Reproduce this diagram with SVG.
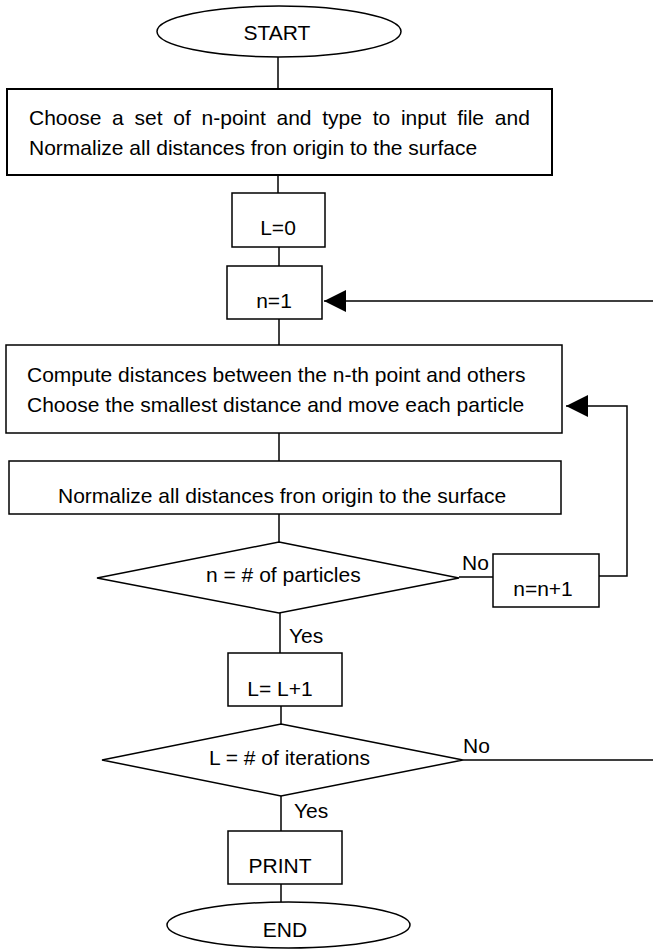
<svg xmlns="http://www.w3.org/2000/svg" width="653" height="950" viewBox="0 0 653 950">
<style>
  .shape { fill: #ffffff; stroke: #000000; stroke-width: 1.5; }
  .conn { fill: none; stroke: #000000; stroke-width: 1.5; }
  text { font-family: "Liberation Sans", Arial, sans-serif; font-size: 21px; fill: #000000; }
  .mid { text-anchor: middle; }
</style>
<defs>
  <marker id="arrow" markerUnits="userSpaceOnUse" markerWidth="22" markerHeight="22" viewBox="0 0 21 21" refX="21" refY="10.5" orient="auto">
    <path d="M0,0 L21,10.5 L0,21 Z" fill="#000000"/>
  </marker>
</defs>
<rect width="653" height="950" fill="#ffffff"/>

<g id="connectors">
  <line class="conn" x1="278" y1="57" x2="278" y2="89"/>
  <line class="conn" x1="278" y1="175" x2="278" y2="193"/>
  <line class="conn" x1="279" y1="247" x2="279" y2="266"/>
  <line class="conn" x1="279" y1="319" x2="279" y2="345"/>
  <line class="conn" x1="279" y1="433" x2="279" y2="461"/>
  <line class="conn" x1="279" y1="514" x2="279" y2="542"/>
  <line class="conn" x1="280" y1="613" x2="280" y2="653"/>
  <line class="conn" x1="459" y1="577" x2="493" y2="577"/>
  <polyline class="conn" points="599,576 627,576 627,406 566,406" marker-end="url(#arrow)"/>
  <line class="conn" x1="281" y1="706" x2="281" y2="724"/>
  <polyline class="conn" points="463,760 660,760 660,301 324,301" marker-end="url(#arrow)"/>
  <line class="conn" x1="281" y1="796" x2="281" y2="831"/>
  <line class="conn" x1="281" y1="884" x2="281" y2="902"/>
  <text x="462" y="570">No</text>
  <text x="463" y="753">No</text>
  <text x="289" y="643">Yes</text>
  <text x="294" y="818">Yes</text>
</g>

<g id="start">
  <ellipse class="shape" cx="279" cy="31.5" rx="122" ry="25.5"/>
  <text class="mid" x="277" y="40">START</text>
</g>

<g id="init">
  <rect class="shape" x="7" y="89" width="545" height="86" style="stroke-width:2"/>
  <text x="29" y="125" word-spacing="4.9">Choose a set of n-point and type to input file and</text>
  <text x="29" y="155">Normalize all distances fron origin to the surface</text>
</g>

<g id="l0">
  <rect class="shape" x="232" y="193" width="93" height="54"/>
  <text class="mid" x="278" y="235">L=0</text>
</g>

<g id="n1">
  <rect class="shape" x="227" y="266" width="95" height="53"/>
  <text class="mid" x="274" y="308">n=1</text>
</g>

<g id="compute">
  <rect class="shape" x="6" y="345" width="556" height="88"/>
  <text x="27" y="382">Compute distances between the n-th point and others</text>
  <text x="27" y="412">Choose the smallest distance and move each particle</text>
</g>

<g id="normalize">
  <rect class="shape" x="9" y="461" width="552" height="53"/>
  <text x="58" y="503">Normalize all distances fron origin to the surface</text>
</g>

<g id="decision-n">
  <polygon class="shape" points="279,542 459,578 279,613 97,578"/>
  <text x="206" y="582">n = # of particles</text>
</g>

<g id="increment-n">
  <rect class="shape" x="493" y="554" width="106" height="53"/>
  <text class="mid" x="543" y="596">n=n+1</text>
</g>

<g id="increment-l">
  <rect class="shape" x="228" y="653" width="114" height="53"/>
  <text class="mid" x="280" y="696">L= L+1</text>
</g>

<g id="decision-l">
  <polygon class="shape" points="281,724 463,760 281,796 102,760"/>
  <text x="209" y="765">L = # of iterations</text>
</g>

<g id="print">
  <rect class="shape" x="228" y="831" width="114" height="53"/>
  <text class="mid" x="280" y="873">PRINT</text>
</g>

<g id="end">
  <ellipse class="shape" cx="288.5" cy="925" rx="121.5" ry="23"/>
  <text class="mid" x="285" y="937">END</text>
</g>
</svg>
